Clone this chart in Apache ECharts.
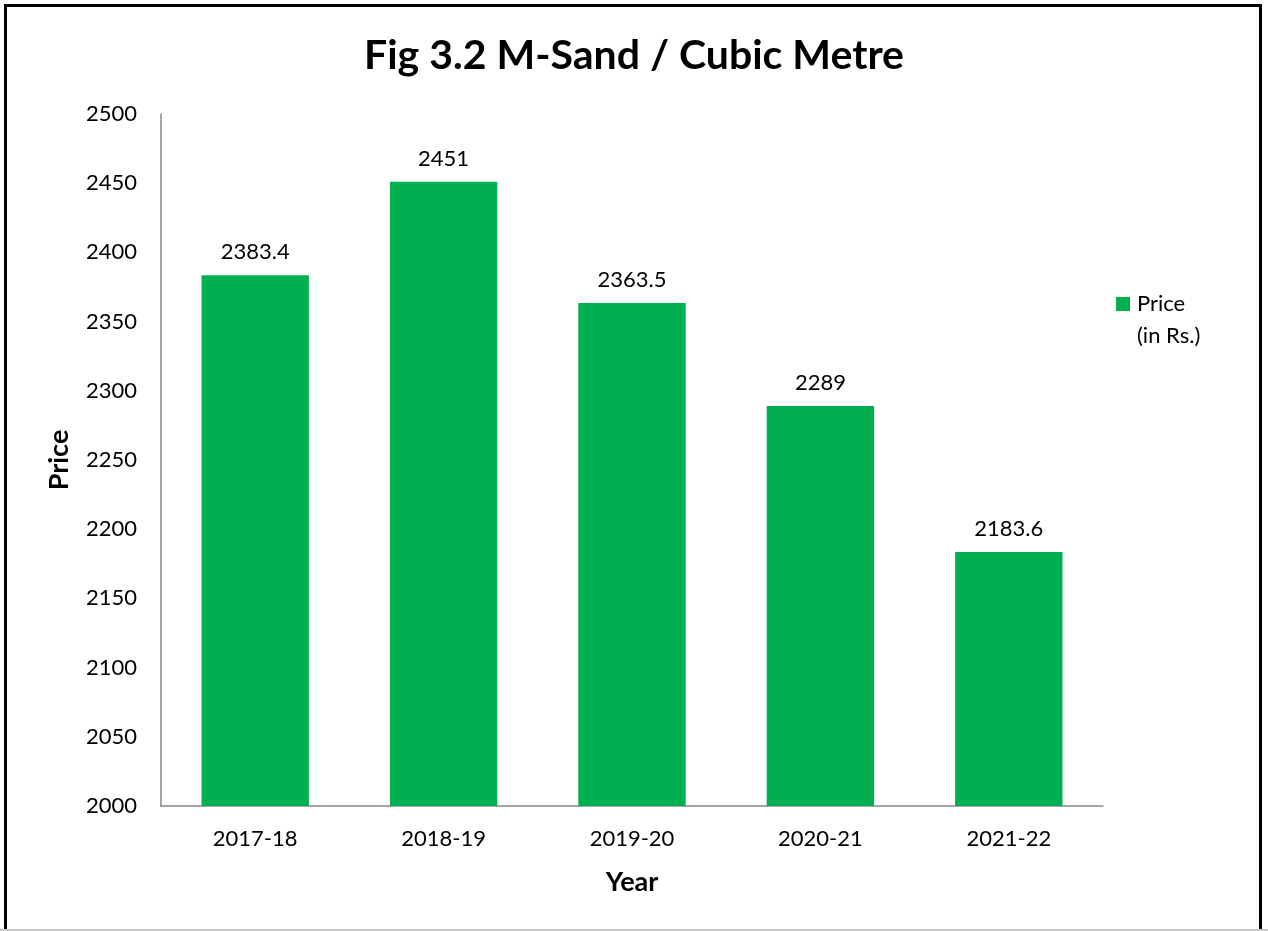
<!DOCTYPE html>
<html>
<head>
<meta charset="utf-8">
<script src="https://cdn.jsdelivr.net/npm/echarts@6/dist/echarts.min.js"></script>
<style>
  html, body { margin: 0; padding: 0; background: #fff; overflow: hidden; }
  #chart { position: absolute; left: 0; top: 0; width: 1268px; height: 931px; }
  #frame { position: absolute; left: 4px; top: 4px; width: 1252px; height: 940px; border: 3px solid #000; pointer-events: none; }
  #edge { position: absolute; left: 0; top: 929px; width: 1268px; height: 2px; background: #c8c8c8; }
</style>
</head>
<body>
<div id="chart"></div>
<div id="frame"></div>
<div id="edge"></div>
<script>
// data
const years = ['2017-18', '2018-19', '2019-20', '2020-21', '2021-22']
const prices = [2383.4, 2451, 2363.5, 2289, 2183.6]
const seriesName = 'Price\n(in Rs.)'

const font = 'Lato, "Open Sans", sans-serif'

const chart = echarts.init(document.getElementById('chart'))

const options = {
    animation: false,
    textStyle: { fontFamily: font },
    title: {
        text: 'Fig 3.2 M-Sand / Cubic Metre',
        left: 'center',
        top: 30,
        textStyle: { fontSize: 41, fontWeight: 'bold', color: '#000', fontFamily: font },
    },
    legend: {
        left: 1111,
        top: 283,
        orient: 'vertical',
        itemWidth: 14,
        itemHeight: 46,
        itemGap: 10,
        // square sits beside the first text line
        icon: 'path://M0,0h14v14h-14z M0,46h0.01v0.01h-0.01z',
        data: [seriesName],
        textStyle: { fontSize: 22, color: '#000', lineHeight: 32, fontFamily: font, padding: [0, 0, 0, 2] },
    },
    grid: { left: 161, top: 114, right: 165, bottom: 125 },
    xAxis: {
        type: 'category',
        data: years,
        name: 'Year',
        nameLocation: 'middle',
        nameGap: 63,
        nameTextStyle: { fontSize: 27, fontWeight: 'bold', color: '#000' },
        axisLine: { lineStyle: { color: '#888', width: 1.5 } },
        axisTick: { show: false },
        axisLabel: { fontSize: 22, color: '#000', margin: 22 },
    },
    yAxis: {
        type: 'value',
        min: 2000,
        max: 2500,
        interval: 50,
        name: 'Price',
        nameLocation: 'middle',
        nameGap: 88,
        nameTextStyle: { fontSize: 27, fontWeight: 'bold', color: '#000' },
        axisLine: { show: true, lineStyle: { color: '#888', width: 1.5 } },
        axisTick: { show: false },
        splitLine: { show: false },
        axisLabel: { fontSize: 22, color: '#000', margin: 24, formatter: v => String(v) },
    },
    series: [
        {
            type: 'bar',
            name: seriesName,
            data: prices,
            barWidth: '57%',
            itemStyle: { color: '#00b050' },
            label: {
                show: true,
                position: 'top',
                distance: 12,
                fontSize: 22,
                color: '#000',
            },
        },
    ],
}

chart.setOption(options)
</script>
</body>
</html>
